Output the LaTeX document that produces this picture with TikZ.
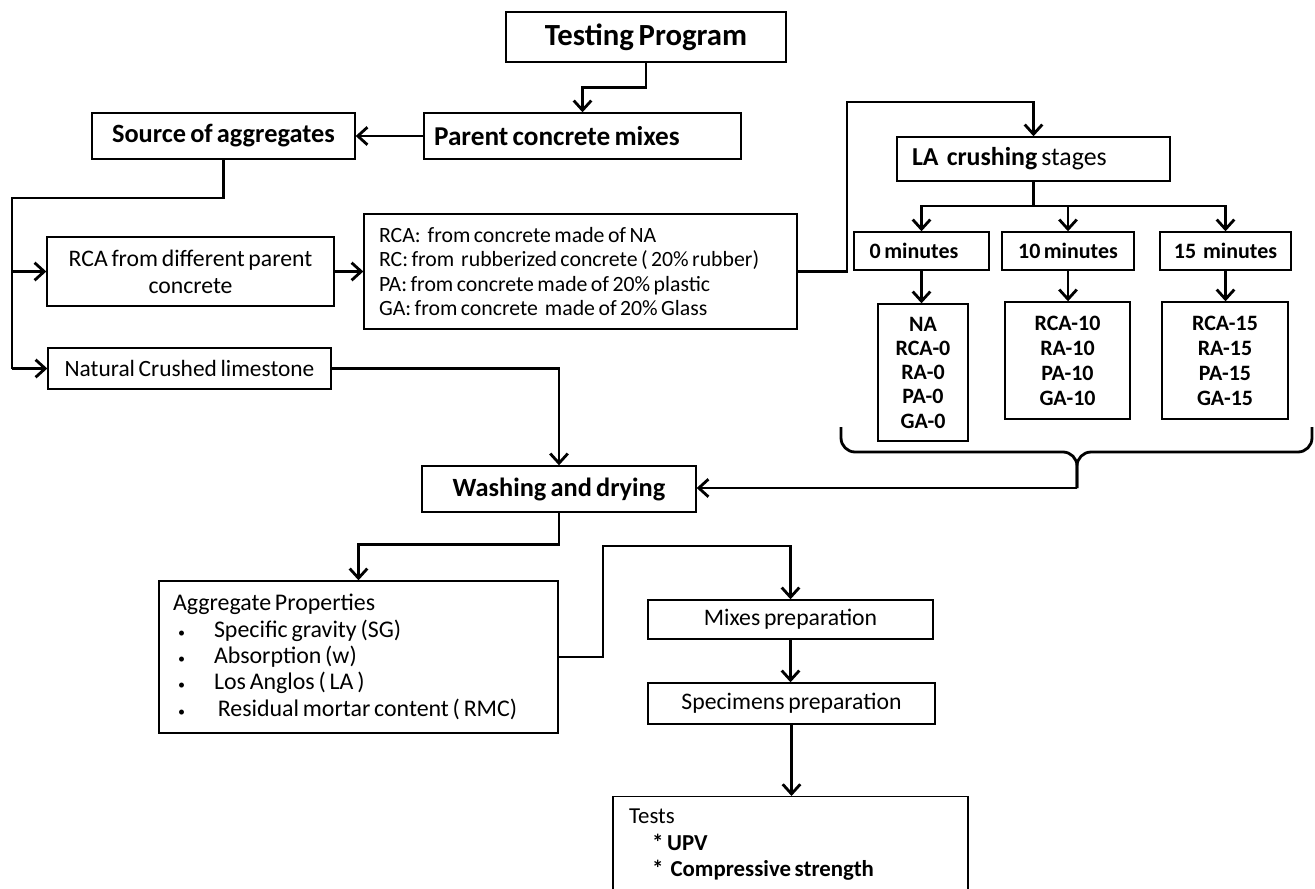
\documentclass[tikz,border=0pt]{standalone}
\usepackage{fontspec}
\setmainfont{Carlito}[WordSpace=0.7]
\usepackage{tikz}
\usetikzlibrary{arrows.meta,positioning}
\newcommand\fsz[2]{\fontsize{#1}{#2}\selectfont}
\newcommand\dotitem{\makebox[0.82cm][l]{\hspace{0.1cm}{\fsz{8}{8}\textbullet}}}

\begin{document}
\begin{tikzpicture}[x=0.02cm,y=-0.02cm,
    box/.style={draw,line width=0.8pt,inner sep=0pt,align=center},
    con/.style={line width=1.6pt},
    arr/.style={con,-{Straight Barb[length=5.5pt,width=10pt]}}]
\useasboundingbox[fill=white] (0,0) rectangle (1315,889);

% top part
\node[box,minimum width=5.6cm,minimum height=1cm,font=\fsz{17.5}{21}\bfseries] (test) at (646,37) {Testing Program};
\node[box,minimum height=0.92cm,text width=5.94cm,inner xsep=0.2cm,align=flush left,font=\fsz{15.5}{18}\bfseries] (parent) at (582.5,136) {Parent concrete mixes};
\node[box,minimum width=5.26cm,minimum height=0.92cm,font=\fsz{15}{18}\bfseries] (source) at (223.5,136) {Source of aggregates};

% sources
\node[box,minimum width=5.74cm,minimum height=1.38cm,font=\fsz{13.5}{15.3}] (rca) at (190.5,271.5) {RCA from different parent\\concrete};
\node[box,minimum height=2.3cm,text width=8.06cm,inner xsep=0.3cm,align=flush left,font=\fsz{12.4}{14}] (mat) at (580.5,271.5)
    {RCA:~~from concrete made of NA\\
     RC: from~~rubberized concrete ( 20\% rubber)\\
     PA: from concrete made of 20\% plastic\\
     GA: from concrete~~made of 20\% Glass};
\node[box,minimum width=5.66cm,minimum height=0.82cm,font=\fsz{13.3}{15}] (nat) at (189.5,368.5) {Natural Crushed limestone};

% crushing stages
\node[box,minimum height=0.88cm,text width=4.86cm,inner xsep=0.3cm,align=flush left,font=\fsz{14.7}{17}] (la) at (1033.5,159) {\textbf{LA~~crushing} stages};
\node[box,minimum width=2.7cm,minimum height=0.76cm,font=\fsz{12.5}{15}\bfseries] (m0) at (921.5,251) {0 minutes\hspace{0.3cm}};
\node[box,minimum width=2.64cm,minimum height=0.76cm,font=\fsz{12.5}{15}\bfseries] (m10) at (1068,251) {10 minutes};
\node[box,minimum width=2.62cm,minimum height=0.76cm,font=\fsz{12.5}{15}\bfseries] (m15) at (1225.5,251) {15~~minutes};
\node[box,minimum width=1.8cm,minimum height=2.74cm,font=\fsz{12.5}{13.8}\bfseries] (l0) at (923,372.5) {NA\\RCA-0\\RA-0\\PA-0\\GA-0};
\node[box,minimum width=2.5cm,minimum height=2.34cm,font=\fsz{12.5}{14.2}\bfseries] (l10) at (1067.5,360.5) {RCA-10\\RA-10\\PA-10\\GA-10};
\node[box,minimum width=2.52cm,minimum height=2.34cm,font=\fsz{12.5}{14.2}\bfseries] (l15) at (1225,360.5) {RCA-15\\RA-15\\PA-15\\GA-15};

% lower part
\node[box,minimum width=5.48cm,minimum height=0.92cm,font=\fsz{15}{18}\bfseries] (wash) at (559,489) {Washing and drying};
\node[box,minimum height=3.04cm,text width=7.42cm,inner xsep=0.28cm,align=flush left,font=\fsz{13.6}{15}] (agg) at (358.5,657)
    {Aggregate Properties\\
     \dotitem Specific gravity (SG)\\
     \dotitem Absorption (w)\\
     \dotitem Los Anglos ( LA )\\
     \dotitem\ Residual mortar content ( RMC)};
\node[box,minimum width=5.7cm,minimum height=0.78cm,font=\fsz{13.5}{16}] (mixes) at (790.5,619.5) {Mixes preparation};
\node[box,minimum width=5.74cm,minimum height=0.82cm,font=\fsz{13.5}{16}] (spec) at (791.5,703.5) {Specimens preparation};
\node[box,anchor=north,text width=6.46cm,inner xsep=0.32cm,inner ysep=7pt,align=flush left,font=\fsz{13}{15}] (tests) at (790.5,796)
    {Tests\\
     \hspace*{0.46cm}\textbf{*\,UPV}\\
     \hspace*{0.46cm}\textbf{*~~Compressive strength}};

% connectors
\draw[arr] (test.south) -- ++(0,25) -| (parent.north);
\draw[arr] (parent.west) -- (source.east);
\coordinate (trunk) at (12,198);
\draw[con] (source.south) |- (trunk) -- (trunk |- nat.west);
\draw[arr] (trunk |- rca.west) -- (rca.west);
\draw[arr] (trunk |- nat.west) -- (nat.west);
\draw[arr] (rca.east) -- (mat.west);
\coordinate (bend) at (847,102);
\draw[arr] (mat.east) -| (bend) -| (la.north);
\coordinate (split) at (1033.5,206);
\draw[con] (la.south) -- (split);
\foreach \n in {m0,m10,m15}
    \draw[arr] (split) -| (\n.north);
\foreach \a/\b in {m0/l0,m10/l10,m15/l15}
    \draw[arr] (\a.south) -- (\a.south |- \b.north);

% brace
\coordinate (bl) at (841,427);
\coordinate (br) at (1312,427);
\coordinate (bm) at (1077,452);
\coordinate (bt) at (1077,488);
\draw[con,rounded corners=8pt] (bl) |- (bm) -- (bt);
\draw[con,rounded corners=8pt] (br) |- (bm) -- (bt);
\draw[arr] (bt) -- (bt -| wash.east);

\draw[arr] (nat.east) -| (wash.north);
\draw[arr] (wash.south) -- ++(0,32) -| (agg.north);
\coordinate (bend2) at (603,546);
\draw[arr] (agg.east) -| (bend2) -| (mixes.north);
\draw[arr] (mixes.south) -- (mixes.south |- spec.north);
\draw[arr] (spec.south) -- (spec.south |- tests.north);
\end{tikzpicture}
\end{document}
